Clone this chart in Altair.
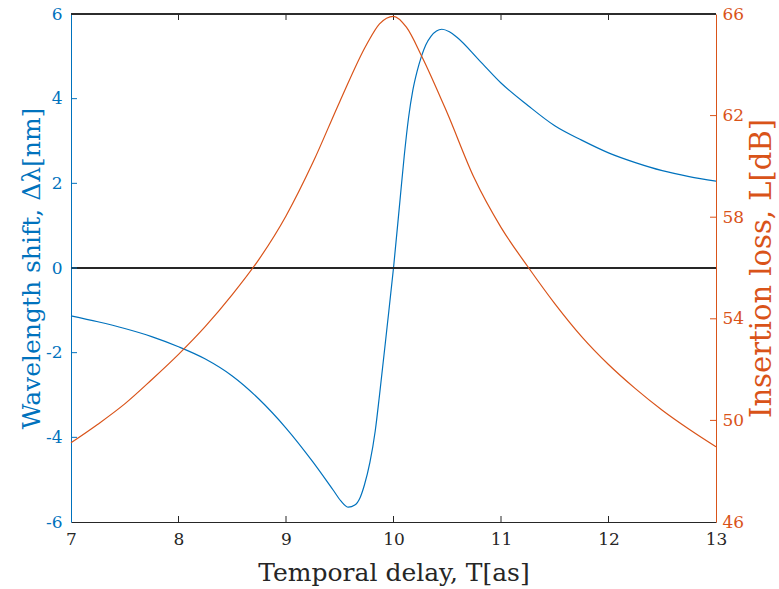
import altair as alt
import pandas as pd

# Wavelength shift (left axis) vs. temporal delay
shift_t = [7.00, 7.25, 7.50, 7.75, 8.00, 8.25, 8.50, 8.75, 9.00, 9.25, 9.44, 9.51,
           9.58, 9.64, 9.69, 9.73, 9.78, 9.83, 9.87, 9.94, 10.00, 10.06, 10.10,
           10.14, 10.18, 10.22, 10.26, 10.30, 10.35, 10.40, 10.45, 10.52, 10.59,
           10.80, 11.00, 11.25, 11.50, 11.75, 12.00, 12.25, 12.50, 12.75, 13.00]
shift_nm = [-1.13, -1.27, -1.43, -1.62, -1.86, -2.15, -2.55, -3.10, -3.78, -4.58,
            -5.25, -5.50, -5.65, -5.60, -5.42, -5.12, -4.60, -3.85, -3.00, -1.40,
            0.00, 1.59, 2.65, 3.55, 4.20, 4.65, 5.00, 5.27, 5.48, 5.60, 5.64, 5.58,
            5.45, 4.90, 4.37, 3.84, 3.36, 3.02, 2.72, 2.49, 2.30, 2.16, 2.05]

# Insertion loss (right axis) vs. temporal delay
loss_t = [7.00, 7.25, 7.50, 7.75, 8.00, 8.25, 8.50, 8.75, 9.00, 9.25, 9.50, 9.75,
          9.87, 10.00, 10.12, 10.26, 10.50, 10.75, 11.00, 11.25, 11.50, 11.75,
          12.00, 12.25, 12.50, 12.75, 13.00]
loss_db = [49.12, 49.85, 50.65, 51.60, 52.60, 53.70, 54.95, 56.35, 58.05, 60.15,
           62.55, 64.80, 65.61, 65.91, 65.48, 64.36, 62.10, 59.55, 57.60, 56.05,
           54.60, 53.30, 52.20, 51.25, 50.40, 49.65, 48.96]

x_ticks = [7, 8, 9, 10, 11, 12, 13]
left_ticks = [-6, -4, -2, 0, 2, 4, 6]
right_ticks = [46, 50, 54, 58, 62, 66]

BLUE = "#0072BD"
ORANGE = "#D95319"
DARK = "#262626"
FONT = "DejaVu Serif"
W, H = 645, 508
# plain hyphen for negative tick labels
LABEL_EXPR = "datum.value < 0 ? '-' + abs(datum.value) : '' + datum.value"

shift_df = pd.DataFrame({"t": shift_t, "shift": shift_nm})
loss_df = pd.DataFrame({"t": loss_t, "loss": loss_db})
xtick_df = pd.DataFrame({"t": x_ticks[1:-1]})
ltick_df = pd.DataFrame({"shift": left_ticks[1:-1]})
rtick_df = pd.DataFrame({"loss": right_ticks[1:-1]})

x_scale = alt.Scale(domain=[7, 13], nice=False, zero=False)
left_scale = alt.Scale(domain=[-6, 6], nice=False, zero=False)
right_scale = alt.Scale(domain=[46, 66], nice=False, zero=False)

x_enc = alt.X(
    "t:Q", scale=x_scale,
    axis=alt.Axis(values=x_ticks, tickSize=0, labelPadding=9, labelFontSize=17,
                  labelFont=FONT, labelColor=DARK, domainColor=DARK, domainWidth=1,
                  grid=False, title="Temporal delay, T[as]", titleFont=FONT,
                  titleFontSize=25, titleFontWeight="normal", titleColor=DARK,
                  titleX=W / 2, titleY=58, titleBaseline="alphabetic",
                  labelFlush=False, labelExpr=LABEL_EXPR),
)

shift_line = alt.Chart(shift_df).mark_line(
    color=BLUE, strokeWidth=1.2, interpolate="monotone"
).encode(
    x=x_enc,
    y=alt.Y("shift:Q", scale=left_scale,
            axis=alt.Axis(orient="left", values=left_ticks, tickSize=0,
                          labelPadding=9, labelFontSize=17, labelFont=FONT,
                          labelColor=BLUE, domainColor=BLUE, domainWidth=1,
                          grid=False, title="Wavelength shift, Δλ[nm]",
                          titleFont=FONT, titleFontSize=25, titleFontWeight="normal",
                          titleColor=BLUE, titleAngle=270, titleX=-32, titleY=H / 2,
                          titleAlign="center", titleBaseline="alphabetic",
                          labelFlush=False, labelExpr=LABEL_EXPR)),
)

zero_line = alt.Chart(shift_df).mark_rule(color=DARK, strokeWidth=1).encode(
    y=alt.datum(0),
)

# inward ticks on the bottom and top edges
bottom_ticks = alt.Chart(xtick_df).mark_rule(color=DARK, strokeWidth=1).encode(
    x="t:Q", y=alt.value(H), y2=alt.value(H - 6))
top_ticks = alt.Chart(xtick_df).mark_rule(color=DARK, strokeWidth=1).encode(
    x="t:Q", y=alt.value(0), y2=alt.value(6))
top_edge = alt.Chart(xtick_df).mark_rule(color=DARK, strokeWidth=1).encode(
    x=alt.value(0), x2=alt.value(W), y=alt.value(0))

left_tick_marks = alt.Chart(ltick_df).mark_rule(color=BLUE, strokeWidth=1).encode(
    y="shift:Q", x=alt.value(0), x2=alt.value(6))

left_group = alt.layer(shift_line, zero_line, left_tick_marks, bottom_ticks,
                       top_ticks, top_edge)

loss_line = alt.Chart(loss_df).mark_line(
    color=ORANGE, strokeWidth=1.2, interpolate="monotone"
).encode(
    x=alt.X("t:Q", scale=x_scale),
    y=alt.Y("loss:Q", scale=right_scale,
            axis=alt.Axis(orient="right", values=right_ticks, tickSize=0,
                          labelPadding=6, labelFontSize=17, labelFont=FONT,
                          labelColor=ORANGE, domainColor=ORANGE, domainWidth=1,
                          grid=False, title="Insertion loss, L[dB]",
                          titleFont=FONT, titleFontSize=29, titleFontWeight="normal",
                          titleColor=ORANGE, titleAngle=270, titleX=54, titleY=H / 2,
                          titleAlign="center", titleBaseline="alphabetic",
                          labelFlush=False, labelExpr=LABEL_EXPR)),
)

right_tick_marks = alt.Chart(rtick_df).mark_rule(color=ORANGE, strokeWidth=1).encode(
    y="loss:Q", x=alt.value(W), x2=alt.value(W - 6))

right_group = alt.layer(loss_line, right_tick_marks)

chart = alt.layer(left_group, right_group).resolve_scale(
    y="independent"
).properties(
    width=W, height=H,
    autosize=alt.AutoSizeParams(type="none"),
    padding={"left": 71, "top": 14, "right": 63, "bottom": 67},
    background="white",
).configure_view(
    stroke=None
).configure_axis(
    labelFont=FONT, titleFont=FONT
)

chart.save("out.html", embed_options={"renderer": "svg", "actions": False})
